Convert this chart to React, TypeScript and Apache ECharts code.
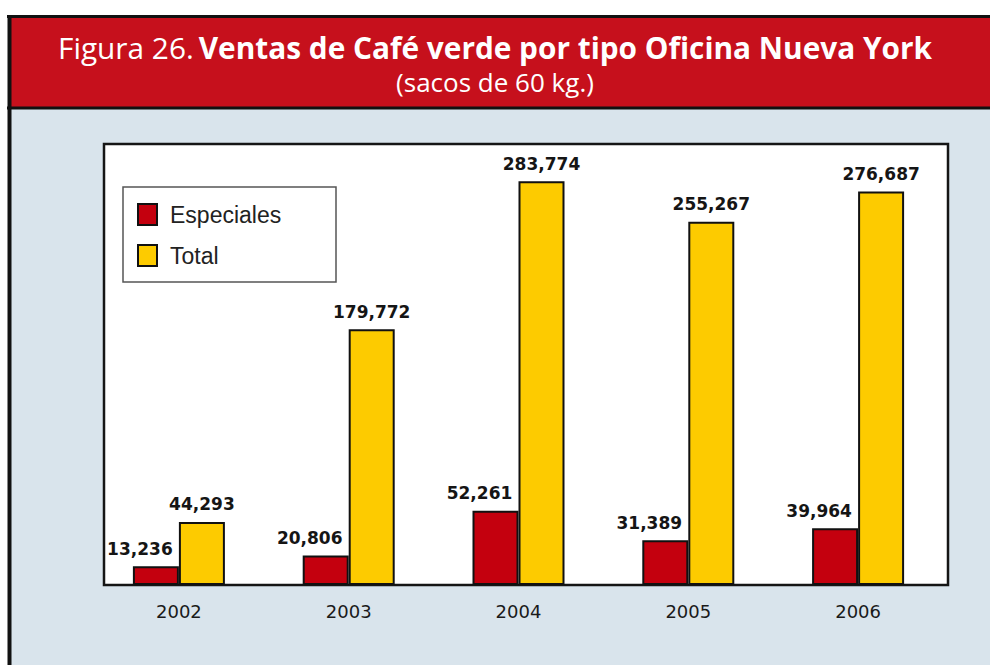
import React, { useEffect, useRef } from "react";
import * as echarts from "echarts";

const years = ["2002", "2003", "2004", "2005", "2006"];
const especiales = [13236, 20806, 52261, 31389, 39964];
const total = [44293, 179772, 283774, 255267, 276687];
const seriesNames = ["Especiales", "Total"];
const titleMain = "Figura 26.";
const titleBold = "Ventas de Café verde por tipo Oficina Nueva York";
const subtitle = "(sacos de 60 kg.)";

const RED = "#c4000e";
const YELLOW = "#fdcb00";

export default function App() {
  const ref = useRef<HTMLDivElement>(null);
  useEffect(() => {
    if (!ref.current) return;
    const chart = echarts.init(ref.current, undefined, { renderer: "svg" });
    const fmt = (p: any) => Number(p.value).toLocaleString("en-US");
    const labelBase = {
      show: true,
      position: "top",
      distance: 9,
      fontFamily: "DejaVu Sans",
      fontWeight: "bold",
      fontSize: 17,
      color: "#151515",
      formatter: fmt,
    };
    chart.setOption({
      animation: false,
      backgroundColor: "#ffffff",
      graphic: [
        { type: "rect", z: 0, silent: true, shape: { x: 8, y: 108, width: 982, height: 557 }, style: { fill: "#d9e4ec" } },
        { type: "rect", z: 0, silent: true, shape: { x: 8, y: 16, width: 982, height: 91 }, style: { fill: "#c6101c" } },
        { type: "line", z: 1, silent: true, shape: { x1: 7, y1: 16.5, x2: 990, y2: 16.5 }, style: { stroke: "#111", lineWidth: 3 } },
        { type: "line", z: 1, silent: true, shape: { x1: 7, y1: 108, x2: 990, y2: 108 }, style: { stroke: "#111", lineWidth: 3 } },
        { type: "line", z: 1, silent: true, shape: { x1: 9.5, y1: 15, x2: 9.5, y2: 665 }, style: { stroke: "#111", lineWidth: 4 } },
        { type: "rect", z: 1, silent: true, shape: { x: 104, y: 144, width: 844, height: 441 }, style: { fill: "#ffffff", stroke: "#151515", lineWidth: 2.5 } },
        { type: "rect", z: 1, silent: true, shape: { x: 123, y: 187, width: 213, height: 95 }, style: { fill: "#ffffff", stroke: "#555", lineWidth: 1.5 } },
      ],
      title: [
        {
          text: "{a|" + titleMain + "} {b|" + titleBold + "}",
          left: "center",
          top: 31,
          padding: 0,
          textStyle: {
            rich: {
              a: { fontFamily: "Open Sans", fontSize: 29.8, fontWeight: "normal", color: "#ffffff", lineHeight: 32 },
              b: { fontFamily: "Open Sans", fontSize: 29.8, fontWeight: "bold", color: "#ffffff", lineHeight: 32 },
            },
          },
        },
        {
          text: subtitle,
          left: "center",
          top: 68,
          padding: 0,
          textStyle: { fontFamily: "Open Sans", fontSize: 26, fontWeight: "normal", color: "#ffffff", lineHeight: 28 },
        },
      ],
      legend: {
        orient: "vertical",
        left: 137,
        top: 203,
        padding: 0,
        itemWidth: 19,
        itemHeight: 21,
        itemGap: 18,
        icon: "rect",
        data: seriesNames,
        textStyle: { fontFamily: "Liberation Sans", fontSize: 23, lineHeight: 21, color: "#222", padding: [0, 0, 0, 8] },
      },
      grid: { left: 94, right: 47, top: 144, bottom: 80 },
      xAxis: {
        type: "category",
        data: years,
        axisLine: { show: false },
        axisTick: { show: false },
        axisLabel: { margin: 17, fontFamily: "DejaVu Sans", fontSize: 18, color: "#1a1a1a" },
      },
      yAxis: { type: "value", min: 0, max: 310000, show: false, splitLine: { show: false } },
      series: [
        {
          name: seriesNames[0],
          type: "bar",
          data: especiales,
          barWidth: 46,
          barGap: "0%",
          itemStyle: { color: RED, borderColor: "#111", borderWidth: 2 },
          label: { ...labelBase, offset: [-16, 0] },
        },
        {
          name: seriesNames[1],
          type: "bar",
          data: total,
          barWidth: 46,
          barGap: "0%",
          itemStyle: { color: YELLOW, borderColor: "#111", borderWidth: 2 },
          label: { ...labelBase },
        },
      ],
    });
    return () => chart.dispose();
  }, []);
  return <div ref={ref} style={{ position: "absolute", left: 0, top: 0, width: 990, height: 665 }} />;
}
